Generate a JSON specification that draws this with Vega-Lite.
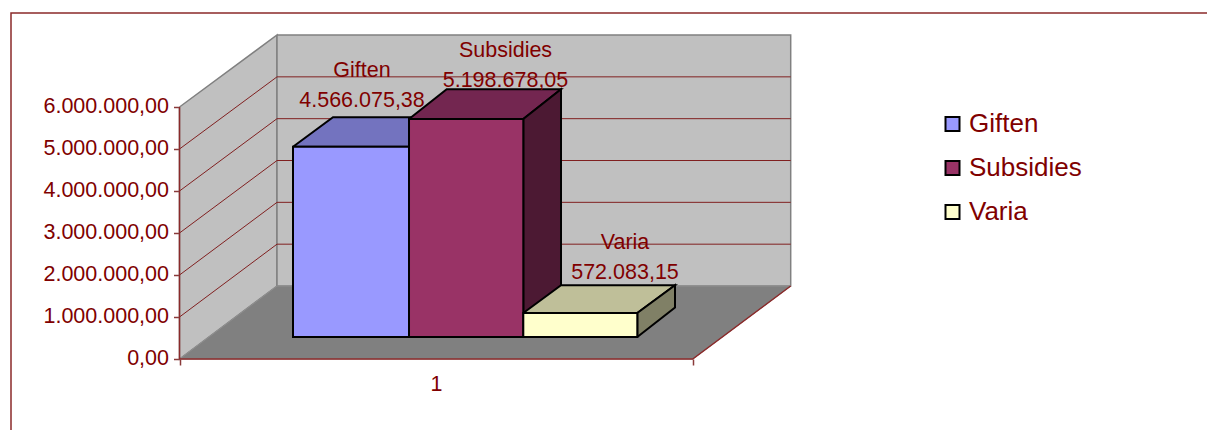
{
"$schema":"https://vega.github.io/schema/vega-lite/v6.json",
"width":1207,"height":430,"padding":0,"autosize":"none","background":"white",
"config":{"locale":{"number":{"decimal":",","thousands":".","grouping":[3],"currency":["",""]}},"view":{"stroke":null},"font":"Liberation Sans"},
"resolve":{"axis":{"x":"independent","y":"independent"}},
"datasets":{
"bars":[
{"series":"Giften","value":4566075.38,"u0":0.22116,"u1":0.44720,"vBase":523810,"vTop":5054760,"uLabel":0.35562,"vName":6714290,"vValue":6000000},
{"series":"Subsidies","value":5198678.05,"u0":0.44720,"u1":0.66991,"vBase":523810,"vTop":5714290,"uLabel":0.63523,"vName":7197620,"vValue":6483330},
{"series":"Varia","value":572083.15,"u0":0.66991,"u1":0.89205,"vBase":523810,"vTop":1095240,"uLabel":0.86808,"vName":2611900,"vValue":1897620}
],
"walls":[
{"face":"left","ord":1,"u":0,"v":6000000},{"face":"left","ord":2,"u":0.18999,"v":7713800},{"face":"left","ord":3,"u":0.18999,"v":1738100},{"face":"left","ord":4,"u":0,"v":0},{"face":"left","ord":5,"u":0,"v":6000000},
{"face":"back","ord":1,"u":0.18999,"v":7713800},{"face":"back","ord":2,"u":1.19096,"v":7713800},{"face":"back","ord":3,"u":1.19096,"v":1738100},{"face":"back","ord":4,"u":0.18999,"v":1738100},{"face":"back","ord":5,"u":0.18999,"v":7713800}
],
"floor":[
{"face":"floor","ord":1,"u":0,"v":0},{"face":"floor","ord":2,"u":0.18999,"v":1738100},{"face":"floor","ord":3,"u":1.19096,"v":1738100},{"face":"floor","ord":4,"u":1,"v":0},{"face":"floor","ord":5,"u":0,"v":0}
],
"grid":[
{"k":1,"ord":1,"u":0,"v":1000000},{"k":1,"ord":2,"u":0.18999,"v":2734000},{"k":1,"ord":3,"u":1.19096,"v":2734000},
{"k":2,"ord":1,"u":0,"v":2000000},{"k":2,"ord":2,"u":0.18999,"v":3730000},{"k":2,"ord":3,"u":1.19096,"v":3730000},
{"k":3,"ord":1,"u":0,"v":3000000},{"k":3,"ord":2,"u":0.18999,"v":4725900},{"k":3,"ord":3,"u":1.19096,"v":4725900},
{"k":4,"ord":1,"u":0,"v":4000000},{"k":4,"ord":2,"u":0.18999,"v":5721900},{"k":4,"ord":3,"u":1.19096,"v":5721900},
{"k":5,"ord":1,"u":0,"v":5000000},{"k":5,"ord":2,"u":0.18999,"v":6717900},{"k":5,"ord":3,"u":1.19096,"v":6717900}
],
"frame":[
{"k":"border","ord":1,"u":-0.32833,"v":-1690480},{"k":"border","ord":2,"u":-0.32833,"v":8238100},{"k":"border","ord":3,"u":2.00214,"v":8238100},
{"k":"yaxis","ord":1,"u":0,"v":6000000},{"k":"yaxis","ord":2,"u":0,"v":0},{"k":"yaxis","ord":3,"u":1,"v":0},{"k":"yaxis","ord":4,"u":1.19096,"v":1738100}
],
"faces":[
{"face":"Giften top","ord":1,"u":0.22116,"v":5054760},{"face":"Giften top","ord":2,"u":0.44720,"v":5054760},{"face":"Giften top","ord":3,"u":0.52124,"v":5754760},{"face":"Giften top","ord":4,"u":0.29910,"v":5754760},{"face":"Giften top","ord":5,"u":0.22116,"v":5054760},
{"face":"Subsidies top","ord":1,"u":0.44720,"v":5714290},{"face":"Subsidies top","ord":2,"u":0.66991,"v":5714290},{"face":"Subsidies top","ord":3,"u":0.74338,"v":6421430},{"face":"Subsidies top","ord":4,"u":0.52066,"v":6421430},{"face":"Subsidies top","ord":5,"u":0.44720,"v":5714290},
{"face":"Subsidies side","ord":1,"u":0.66991,"v":523810},{"face":"Subsidies side","ord":2,"u":0.74338,"v":1226190},{"face":"Subsidies side","ord":3,"u":0.74338,"v":6421430},{"face":"Subsidies side","ord":4,"u":0.66991,"v":5714290},{"face":"Subsidies side","ord":5,"u":0.66991,"v":523810},
{"face":"Varia top","ord":1,"u":0.66991,"v":1095240},{"face":"Varia top","ord":2,"u":0.89205,"v":1095240},{"face":"Varia top","ord":3,"u":0.96551,"v":1754760},{"face":"Varia top","ord":4,"u":0.74338,"v":1754760},{"face":"Varia top","ord":5,"u":0.66991,"v":1095240},
{"face":"Varia side","ord":1,"u":0.89205,"v":523810},{"face":"Varia side","ord":2,"u":0.96551,"v":1226190},{"face":"Varia side","ord":3,"u":0.96551,"v":1754760},{"face":"Varia side","ord":4,"u":0.89205,"v":1095240},{"face":"Varia side","ord":5,"u":0.89205,"v":523810}
]
},
"layer":[
{"data":{"name":"walls"},"mark":{"type":"line","fill":"#C0C0C0","stroke":"#808080","strokeWidth":1.5,"strokeJoin":"miter"},
"encoding":{
"x":{"field":"u","type":"quantitative","scale":{"domain":[-0.34977,2.00214],"nice":false,"zero":false},
"axis":{"title":null,"orient":"bottom","offset":-71,"values":[0,0.5,1],"grid":false,"domain":false,"tickSize":6,"tickColor":"#8a3a3a","tickWidth":1.5,"tickOpacity":{"condition":{"test":"datum.value==0.5","value":0},"value":1},"labelExpr":"datum.value==0.5?'1':''","labelFontSize":21.5,"labelFont":"Liberation Sans","labelColor":"#800000","labelPadding":8,"labelFlush":false,"labelOverlap":false}},
"y":{"field":"v","type":"quantitative","scale":{"domain":[-1690480,8547620],"nice":false,"zero":false},
"axis":{"title":null,"orient":"left","offset":-179.5,"values":[0,1000000,2000000,3000000,4000000,5000000,6000000],"format":",.2f","grid":false,"domain":false,"tickSize":6,"tickColor":"#8a3a3a","tickWidth":1.5,"labelFontSize":21.5,"labelFont":"Liberation Sans","labelColor":"#800000","labelPadding":5}},
"detail":{"field":"face"},"order":{"field":"ord"}}},
{"data":{"name":"floor"},"mark":{"type":"line","fill":"#808080","stroke":"#909090","strokeWidth":1},
"encoding":{"x":{"field":"u","type":"quantitative","axis":null},"y":{"field":"v","type":"quantitative","axis":null},"detail":{"field":"face"},"order":{"field":"ord"}}},
{"data":{"name":"grid"},"mark":{"type":"line","stroke":"#802020","strokeWidth":1},
"encoding":{"x":{"field":"u","type":"quantitative","axis":null},"y":{"field":"v","type":"quantitative","axis":null},"detail":{"field":"k"},"order":{"field":"ord"}}},
{"data":{"name":"frame"},"mark":{"type":"line","stroke":"#8a2a2a","strokeWidth":1.5,"strokeJoin":"miter"},
"encoding":{"x":{"field":"u","type":"quantitative","axis":null},"y":{"field":"v","type":"quantitative","axis":null},"detail":{"field":"k"},"order":{"field":"ord"}}},
{"data":{"name":"faces"},"mark":{"type":"line","stroke":"black","strokeWidth":2,"strokeJoin":"miter"},
"encoding":{"x":{"field":"u","type":"quantitative","axis":null},"y":{"field":"v","type":"quantitative","axis":null},
"fill":{"field":"face","type":"nominal","legend":null,"scale":{"domain":["Giften top","Subsidies top","Subsidies side","Varia top","Varia side"],"range":["#7373BF","#732650","#4C1933","#BFBF99","#808066"]}},
"detail":{"field":"face"},"order":{"field":"ord"}}},
{"data":{"name":"bars"},"mark":{"type":"rect","stroke":"black","strokeWidth":2},
"encoding":{"x":{"field":"u0","type":"quantitative","axis":null},"x2":{"field":"u1"},"y":{"field":"vBase","type":"quantitative","axis":null},"y2":{"field":"vTop"},
"color":{"field":"series","type":"nominal","scale":{"domain":["Giften","Subsidies","Varia"],"range":["#9999FF","#993366","#FFFFCC"]},
"legend":{"title":null,"orient":"none","legendX":939.5,"legendY":111,"padding":0,"symbolType":"square","symbolSize":196,"symbolStrokeColor":"black","symbolStrokeWidth":2,"labelFontSize":26,"labelFont":"Liberation Sans","labelColor":"#800000","labelOffset":3.5,"rowPadding":18,"labelLimit":300}}}},
{"data":{"name":"bars"},"mark":{"type":"text","font":"Liberation Sans","fontSize":21.5,"color":"#800000","align":"center","baseline":"alphabetic"},
"encoding":{"x":{"field":"uLabel","type":"quantitative","axis":null},"y":{"field":"vName","type":"quantitative","axis":null},"text":{"field":"series"}}},
{"data":{"name":"bars"},"mark":{"type":"text","font":"Liberation Sans","fontSize":21.5,"color":"#800000","align":"center","baseline":"alphabetic"},
"encoding":{"x":{"field":"uLabel","type":"quantitative","axis":null},"y":{"field":"vValue","type":"quantitative","axis":null},"text":{"field":"value","type":"quantitative","format":",.2f"}}}
]
}
